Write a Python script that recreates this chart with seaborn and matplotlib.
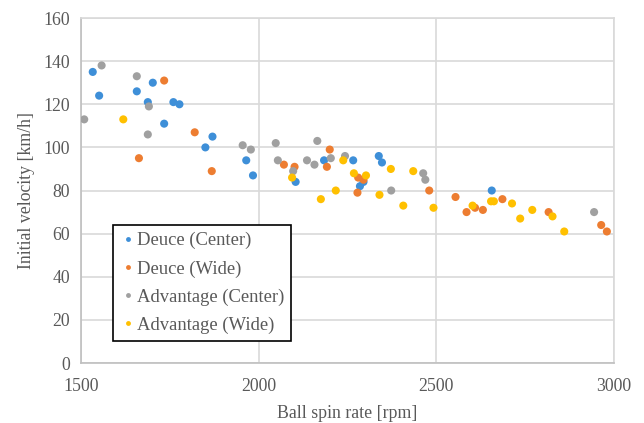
import pandas as pd
import matplotlib.pyplot as plt
import seaborn as sns

# --- data --------------------------------------------------------------------
deuce_center_x = [1533, 1551, 1657, 1688, 1702, 1734, 1760, 1777, 1850, 1870,
                  1965, 1984, 2104, 2184, 2266, 2285, 2295, 2338, 2347, 2656]
deuce_center_y = [135, 124, 126, 121, 130, 111, 121, 120, 100, 105,
                  94, 87, 84, 94, 94, 82, 84, 96, 93, 80]

deuce_wide_x = [1663, 1734, 1820, 1868, 2071, 2101, 2192, 2200, 2278, 2280,
                2295, 2480, 2554, 2585, 2609, 2631, 2686, 2816, 2964, 2980]
deuce_wide_y = [95, 131, 107, 89, 92, 91, 91, 99, 79, 86,
                85, 80, 77, 70, 72, 71, 76, 70, 64, 61]

adv_center_x = [1509, 1558, 1657, 1688, 1691, 1955, 1978, 2048, 2054, 2097,
                2136, 2157, 2165, 2203, 2243, 2373, 2463, 2469, 2944]
adv_center_y = [113, 138, 133, 106, 119, 101, 99, 102, 94, 89,
                94, 92, 103, 95, 96, 80, 88, 85, 70]

adv_wide_x = [1619, 2094, 2175, 2217, 2238, 2268, 2302, 2340, 2372, 2407,
              2435, 2492, 2602, 2654, 2662, 2713, 2736, 2770, 2827, 2860]
adv_wide_y = [113, 86, 76, 80, 94, 88, 87, 78, 90, 73,
              89, 72, 73, 75, 75, 74, 67, 71, 68, 61]

series_names = ["Deuce (Center)", "Deuce (Wide)", "Advantage (Center)", "Advantage (Wide)"]
series_colors = ["#3E8FD8", "#ED7D31", "#A0A0A0", "#FFC000"]

rows = []
for name, xs, ys in [
    (series_names[0], deuce_center_x, deuce_center_y),
    (series_names[1], deuce_wide_x, deuce_wide_y),
    (series_names[2], adv_center_x, adv_center_y),
    (series_names[3], adv_wide_x, adv_wide_y),
]:
    for x, y in zip(xs, ys):
        rows.append({"spin": x, "velocity": y, "serve": name})
df = pd.DataFrame(rows)

# --- plot --------------------------------------------------------------------
sns.set_style("white")
plt.rcParams["font.family"] = ["Liberation Serif", "DejaVu Serif"]

fig = plt.figure(figsize=(6.44, 4.23), dpi=100)
ax = fig.add_axes([0.1258, 0.1418, 0.8276, 0.8156])

sns.scatterplot(data=df, x="spin", y="velocity", hue="serve",
                hue_order=series_names, palette=series_colors,
                s=34, edgecolor="none", linewidth=0, ax=ax, zorder=3)

ax.set_xlim(1500, 3000)
ax.set_ylim(0, 160)
ax.set_xticks([1500, 2000, 2500, 3000])
ax.set_yticks(range(0, 161, 20))
ax.grid(True, color="#D9D9D9", linewidth=1.2)
ax.set_axisbelow(True)
for side in ["top", "right", "left", "bottom"]:
    ax.spines[side].set_color("#D9D9D9")
    ax.spines[side].set_linewidth(1.2)
ax.spines["left"].set_color("#BFBFBF")
ax.spines["bottom"].set_color("#BFBFBF")
ax.tick_params(axis="x", length=0, labelsize=12.8, colors="#595959", pad=11)
ax.tick_params(axis="y", length=0, labelsize=12.8, colors="#595959", pad=8)

ax.set_xlabel("Ball spin rate [rpm]", fontsize=12.8, color="#595959", labelpad=7)
ax.set_ylabel("Initial velocity [km/h]", fontsize=12.8, color="#595959", labelpad=6)

leg = ax.legend(loc="upper left", bbox_to_anchor=(0.06, 0.40), borderaxespad=0,
                frameon=True, fancybox=False, fontsize=13.4, markerscale=0.6,
                handletextpad=0.1, labelspacing=0.58, borderpad=0.38,
                handlelength=0.8, title=None)
leg.get_frame().set_edgecolor("black")
leg.get_frame().set_linewidth(1.2)
leg.get_frame().set_alpha(1.0)
for t in leg.get_texts():
    t.set_color("#595959")

fig.savefig("out.png", dpi=100)
